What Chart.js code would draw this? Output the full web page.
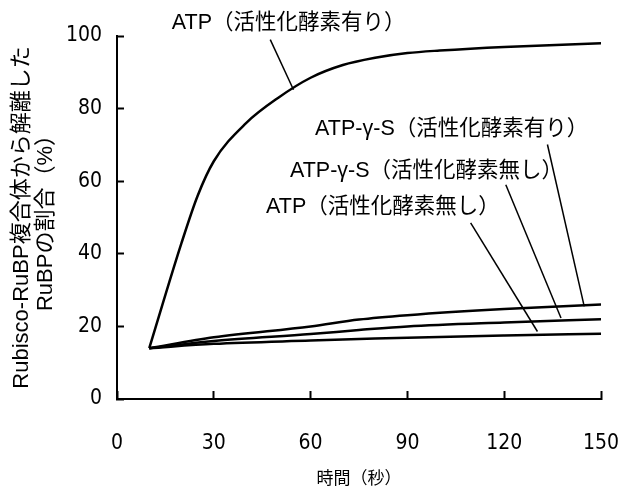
<!DOCTYPE html>
<html>
<head>
<meta charset="utf-8">
<script src="https://cdn.jsdelivr.net/npm/chart.js@4/dist/chart.umd.min.js"></script>
<style>
  body { margin: 0; background: #fff; }
  #wrap { width: 629px; height: 494px; }
</style>
</head>
<body>
<div id="wrap"><canvas id="chart" width="629" height="494"></canvas></div>
<script>
// Time points (s)
const atpActiveX = [10, 20, 25, 30, 40, 50, 60, 70, 80, 90, 100, 120, 150];
const atpActiveY = [14, 43, 56, 65.5, 76, 83, 88.5, 92, 94, 95.3, 96, 97, 98];

const lowX = [10, 30, 60, 75, 90, 120, 150];
const gsActiveY = [14, 17, 20, 21.9, 23.1, 24.8, 26];
const gsNoneY = [14, 16, 17.9, 19.0, 20.0, 21.1, 22];
const atpNoneY = [14, 15.2, 16.1, 16.5, 16.9, 17.5, 18];

// Axis settings
const xTicks = [0, 30, 60, 90, 120, 150];
const yTicks = [0, 20, 40, 60, 80, 100];
const xTitle = '時間（秒）';
const yTitle = ['Rubisco-RuBP複合体から解離した', 'RuBPの割合（%）'];

// Curve labels: text, text anchor (left, middle) and leader line, in data units
const labelTexts = ['ATP（活性化酵素有り）', 'ATP-γ-S（活性化酵素有り）', 'ATP-γ-S（活性化酵素無し）', 'ATP（活性化酵素無し）'];
const labelAt = [[17.0, 103.6], [61.4, 74.4], [53.6, 62.9], [46.2, 52.8]];
const leaderFrom = [[47.5, 99], [133.4, 70.1], [120.5, 59.0], [109.6, 48.5]];
const leaderTo = [[54.7, 85.2], [144.8, 25.5], [137.6, 22.3], [130.3, 18.6]];

const toPoints = (xs, ys) => xs.map((x, i) => ({ x: x, y: ys[i] }));

const lineStyle = {
    borderColor: '#000',
    borderWidth: 2.5,
    pointRadius: 0,
    fill: false,
    cubicInterpolationMode: 'monotone'
};

const labelFont = "21.5px 'Liberation Sans', 'Noto Sans CJK JP', sans-serif";
const tickFont = { family: "'DejaVu Sans Condensed', 'Liberation Sans Narrow', sans-serif", size: 21 };

// Draws the curve names and their leader lines
const curveLabels = {
    id: 'curveLabels',
    afterDraw(chart) {
        const ctx = chart.ctx;
        const xs = chart.scales.x;
        const ys = chart.scales.y;
        ctx.save();
        ctx.strokeStyle = '#000';
        ctx.lineWidth = 1.5;
        leaderFrom.forEach((p, i) => {
            ctx.beginPath();
            ctx.moveTo(xs.getPixelForValue(p[0]), ys.getPixelForValue(p[1]));
            ctx.lineTo(xs.getPixelForValue(leaderTo[i][0]), ys.getPixelForValue(leaderTo[i][1]));
            ctx.stroke();
        });
        ctx.fillStyle = '#000';
        ctx.font = labelFont;
        ctx.textAlign = 'left';
        ctx.textBaseline = 'middle';
        labelTexts.forEach((t, i) => {
            ctx.fillText(t, xs.getPixelForValue(labelAt[i][0]), ys.getPixelForValue(labelAt[i][1]));
        });
        ctx.restore();
    }
};

const ctx = document.getElementById('chart').getContext('2d');
new Chart(ctx, {
    type: 'line',
    data: {
        datasets: [
            Object.assign({ label: 'ATP（活性化酵素有り）', data: toPoints(atpActiveX, atpActiveY) }, lineStyle),
            Object.assign({ label: 'ATP-γ-S（活性化酵素有り）', data: toPoints(lowX, gsActiveY) }, lineStyle),
            Object.assign({ label: 'ATP-γ-S（活性化酵素無し）', data: toPoints(lowX, gsNoneY) }, lineStyle),
            Object.assign({ label: 'ATP（活性化酵素無し）', data: toPoints(lowX, atpNoneY) }, lineStyle)
        ]
    },
    options: {
        responsive: false,
        animation: false,
        layout: { padding: { top: 36, right: 28, left: 0, bottom: 0 } },
        plugins: {
            legend: { display: false },
            tooltip: { enabled: false }
        },
        scales: {
            x: {
                type: 'linear',
                min: 0,
                max: 150,
                afterBuildTicks: scale => { scale.ticks = xTicks.map(v => ({ value: v })); },
                afterFit: scale => {
                    scale.height = 95;
                    scale.paddingLeft = 0;
                    scale.paddingRight = 0;
                },
                border: { color: '#000', width: 2 },
                grid: { drawOnChartArea: false, color: '#000', tickLength: -8, tickWidth: 2 },
                ticks: { color: '#000', font: tickFont, padding: 40, maxRotation: 0 },
                title: {
                    display: true,
                    text: xTitle,
                    color: '#000',
                    font: { family: "'Noto Sans CJK JP', sans-serif", size: 17 },
                    padding: { top: 0, bottom: 6 }
                }
            },
            y: {
                min: 0,
                max: 100,
                afterBuildTicks: scale => { scale.ticks = yTicks.map(v => ({ value: v })); },
                afterFit: scale => {
                    scale.width = 117;
                    scale.paddingTop = 0;
                    scale.paddingBottom = 0;
                },
                border: { color: '#000', width: 2 },
                grid: { drawOnChartArea: false, color: '#000', tickLength: -7, tickWidth: 2 },
                ticks: { color: '#000', font: tickFont, padding: 22 },
                title: {
                    display: true,
                    text: yTitle,
                    color: '#000',
                    font: { family: "'Liberation Sans', 'Noto Sans CJK JP', sans-serif", size: 22, lineHeight: 1.1 },
                    padding: { top: 10, bottom: 0 }
                }
            }
        }
    },
    plugins: [curveLabels]
});
</script>
</body>
</html>
